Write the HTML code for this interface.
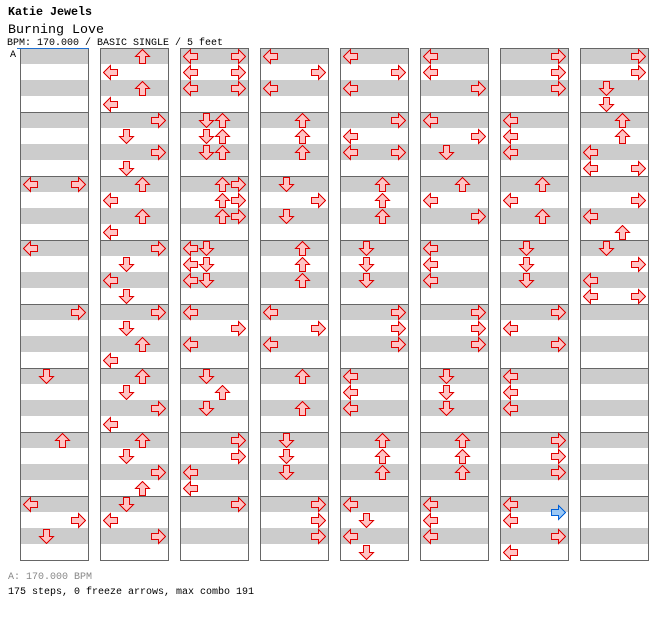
<!DOCTYPE html>
<html><head><meta charset="utf-8"><style>
html,body{margin:0;padding:0;background:#fff;}
svg{display:block;}
</style></head><body>
<svg xmlns="http://www.w3.org/2000/svg" xmlns:xlink="http://www.w3.org/1999/xlink" width="672" height="620" viewBox="0 0 672 620">
<defs>
<g id="col">
<rect x="0" y="48" width="69" height="16" fill="#cccccc"/>
<rect x="0" y="80" width="69" height="16" fill="#cccccc"/>
<rect x="0" y="112" width="69" height="16" fill="#cccccc"/>
<rect x="0" y="144" width="69" height="16" fill="#cccccc"/>
<rect x="0" y="176" width="69" height="16" fill="#cccccc"/>
<rect x="0" y="208" width="69" height="16" fill="#cccccc"/>
<rect x="0" y="240" width="69" height="16" fill="#cccccc"/>
<rect x="0" y="272" width="69" height="16" fill="#cccccc"/>
<rect x="0" y="304" width="69" height="16" fill="#cccccc"/>
<rect x="0" y="336" width="69" height="16" fill="#cccccc"/>
<rect x="0" y="368" width="69" height="16" fill="#cccccc"/>
<rect x="0" y="400" width="69" height="16" fill="#cccccc"/>
<rect x="0" y="432" width="69" height="16" fill="#cccccc"/>
<rect x="0" y="464" width="69" height="16" fill="#cccccc"/>
<rect x="0" y="496" width="69" height="16" fill="#cccccc"/>
<rect x="0" y="528" width="69" height="16" fill="#cccccc"/>
<path d="M0.5 48V561M68.5 48V561M0 48.5h69M0 112.5h69M0 176.5h69M0 240.5h69M0 304.5h69M0 368.5h69M0 432.5h69M0 496.5h69M0 560.5h69" stroke="#666666" stroke-width="1" fill="none"/>
</g>
<polygon id="R" points="0.5,4.5 7.5,4.5 7.5,0.5 14.5,7.5 7.5,14.5 7.5,10.5 0.5,10.5" fill="#ffc4c4" stroke="#e00000" stroke-width="1" shape-rendering="crispEdges"/>
<polygon id="L" points="14.5,4.5 7.5,4.5 7.5,0.5 0.5,7.5 7.5,14.5 7.5,10.5 14.5,10.5" fill="#ffc4c4" stroke="#e00000" stroke-width="1" shape-rendering="crispEdges"/>
<polygon id="U" points="4.5,14.5 4.5,7.5 0.5,7.5 7.5,0.5 14.5,7.5 10.5,7.5 10.5,14.5" fill="#ffc4c4" stroke="#e00000" stroke-width="1" shape-rendering="crispEdges"/>
<polygon id="D" points="4.5,0.5 4.5,7.5 0.5,7.5 7.5,14.5 14.5,7.5 10.5,7.5 10.5,0.5" fill="#ffc4c4" stroke="#e00000" stroke-width="1" shape-rendering="crispEdges"/>
<polygon id="RB" points="0.5,4.5 7.5,4.5 7.5,0.5 14.5,7.5 7.5,14.5 7.5,10.5 0.5,10.5" fill="#9cc8f4" stroke="#0060d8" stroke-width="1" shape-rendering="crispEdges"/>
</defs>

<g font-family="'Liberation Mono', 'DejaVu Sans Mono', monospace" fill="#000">
<text x="8" y="15" font-size="12" font-weight="bold" textLength="84" lengthAdjust="spacingAndGlyphs">Katie Jewels</text>
<text x="8" y="33" font-size="13" textLength="96" lengthAdjust="spacingAndGlyphs">Burning Love</text>
<text x="7" y="45" font-size="10" textLength="216" lengthAdjust="spacingAndGlyphs">BPM: 170.000 / BASIC SINGLE / 5 feet</text>
<text x="10" y="57" font-size="10">A</text>
<text x="8" y="579" font-size="10" fill="#888888" textLength="84" lengthAdjust="spacingAndGlyphs">A: 170.000 BPM</text>
<text x="8" y="594" font-size="10" textLength="246" lengthAdjust="spacingAndGlyphs">175 steps, 0 freeze arrows, max combo 191</text>
</g>

<use xlink:href="#col" href="#col" x="20" y="0"/>
<use xlink:href="#col" href="#col" x="100" y="0"/>
<use xlink:href="#col" href="#col" x="180" y="0"/>
<use xlink:href="#col" href="#col" x="260" y="0"/>
<use xlink:href="#col" href="#col" x="340" y="0"/>
<use xlink:href="#col" href="#col" x="420" y="0"/>
<use xlink:href="#col" href="#col" x="500" y="0"/>
<use xlink:href="#col" href="#col" x="580" y="0"/>

<line x1="17" y1="48.5" x2="89" y2="48.5" stroke="#1f6fd0" stroke-width="1"/>

<!-- Col 0 -->
<use href="#L" x="23" y="177"/><use href="#R" x="71" y="177"/>
<use href="#L" x="23" y="241"/>
<use href="#R" x="71" y="305"/>
<use href="#D" x="39" y="369"/>
<use href="#U" x="55" y="433"/>
<use href="#L" x="23" y="497"/><use href="#R" x="71" y="513"/><use href="#D" x="39" y="529"/>

<!-- Col 1 -->
<use href="#U" x="135" y="49"/><use href="#L" x="103" y="65"/><use href="#U" x="135" y="81"/><use href="#L" x="103" y="97"/>
<use href="#R" x="151" y="113"/><use href="#D" x="119" y="129"/><use href="#R" x="151" y="145"/><use href="#D" x="119" y="161"/>
<use href="#U" x="135" y="177"/><use href="#L" x="103" y="193"/><use href="#U" x="135" y="209"/><use href="#L" x="103" y="225"/>
<use href="#R" x="151" y="241"/><use href="#D" x="119" y="257"/><use href="#L" x="103" y="273"/><use href="#D" x="119" y="289"/>
<use href="#R" x="151" y="305"/><use href="#D" x="119" y="321"/><use href="#U" x="135" y="337"/><use href="#L" x="103" y="353"/>
<use href="#U" x="135" y="369"/><use href="#D" x="119" y="385"/><use href="#R" x="151" y="401"/><use href="#L" x="103" y="417"/>
<use href="#U" x="135" y="433"/><use href="#D" x="119" y="449"/><use href="#R" x="151" y="465"/><use href="#U" x="135" y="481"/>
<use href="#D" x="119" y="497"/><use href="#L" x="103" y="513"/><use href="#R" x="151" y="529"/>

<!-- Col 2 -->
<use href="#L" x="183" y="49"/><use href="#R" x="231" y="49"/><use href="#L" x="183" y="65"/><use href="#R" x="231" y="65"/><use href="#L" x="183" y="81"/><use href="#R" x="231" y="81"/>
<use href="#D" x="199" y="113"/><use href="#U" x="215" y="113"/><use href="#D" x="199" y="129"/><use href="#U" x="215" y="129"/><use href="#D" x="199" y="145"/><use href="#U" x="215" y="145"/>
<use href="#U" x="215" y="177"/><use href="#R" x="231" y="177"/><use href="#U" x="215" y="193"/><use href="#R" x="231" y="193"/><use href="#U" x="215" y="209"/><use href="#R" x="231" y="209"/>
<use href="#L" x="183" y="241"/><use href="#D" x="199" y="241"/><use href="#L" x="183" y="257"/><use href="#D" x="199" y="257"/><use href="#L" x="183" y="273"/><use href="#D" x="199" y="273"/>
<use href="#L" x="183" y="305"/><use href="#R" x="231" y="321"/><use href="#L" x="183" y="337"/>
<use href="#D" x="199" y="369"/><use href="#U" x="215" y="385"/><use href="#D" x="199" y="401"/>
<use href="#R" x="231" y="433"/><use href="#R" x="231" y="449"/><use href="#L" x="183" y="465"/><use href="#L" x="183" y="481"/>
<use href="#R" x="231" y="497"/>

<!-- Col 3 -->
<use href="#L" x="263" y="49"/><use href="#R" x="311" y="65"/><use href="#L" x="263" y="81"/>
<use href="#U" x="295" y="113"/><use href="#U" x="295" y="129"/><use href="#U" x="295" y="145"/>
<use href="#D" x="279" y="177"/><use href="#R" x="311" y="193"/><use href="#D" x="279" y="209"/>
<use href="#U" x="295" y="241"/><use href="#U" x="295" y="257"/><use href="#U" x="295" y="273"/>
<use href="#L" x="263" y="305"/><use href="#R" x="311" y="321"/><use href="#L" x="263" y="337"/>
<use href="#U" x="295" y="369"/><use href="#U" x="295" y="401"/>
<use href="#D" x="279" y="433"/><use href="#D" x="279" y="449"/><use href="#D" x="279" y="465"/>
<use href="#R" x="311" y="497"/><use href="#R" x="311" y="513"/><use href="#R" x="311" y="529"/>

<!-- Col 4 -->
<use href="#L" x="343" y="49"/><use href="#R" x="391" y="65"/><use href="#L" x="343" y="81"/>
<use href="#R" x="391" y="113"/><use href="#L" x="343" y="129"/><use href="#L" x="343" y="145"/><use href="#R" x="391" y="145"/>
<use href="#U" x="375" y="177"/><use href="#U" x="375" y="193"/><use href="#U" x="375" y="209"/>
<use href="#D" x="359" y="241"/><use href="#D" x="359" y="257"/><use href="#D" x="359" y="273"/>
<use href="#R" x="391" y="305"/><use href="#R" x="391" y="321"/><use href="#R" x="391" y="337"/>
<use href="#L" x="343" y="369"/><use href="#L" x="343" y="385"/><use href="#L" x="343" y="401"/>
<use href="#U" x="375" y="433"/><use href="#U" x="375" y="449"/><use href="#U" x="375" y="465"/>
<use href="#L" x="343" y="497"/><use href="#D" x="359" y="513"/><use href="#L" x="343" y="529"/><use href="#D" x="359" y="545"/>

<!-- Col 5 -->
<use href="#L" x="423" y="49"/><use href="#L" x="423" y="65"/><use href="#R" x="471" y="81"/>
<use href="#L" x="423" y="113"/><use href="#R" x="471" y="129"/><use href="#D" x="439" y="145"/>
<use href="#U" x="455" y="177"/><use href="#L" x="423" y="193"/><use href="#R" x="471" y="209"/>
<use href="#L" x="423" y="241"/><use href="#L" x="423" y="257"/><use href="#L" x="423" y="273"/>
<use href="#R" x="471" y="305"/><use href="#R" x="471" y="321"/><use href="#R" x="471" y="337"/>
<use href="#D" x="439" y="369"/><use href="#D" x="439" y="385"/><use href="#D" x="439" y="401"/>
<use href="#U" x="455" y="433"/><use href="#U" x="455" y="449"/><use href="#U" x="455" y="465"/>
<use href="#L" x="423" y="497"/><use href="#L" x="423" y="513"/><use href="#L" x="423" y="529"/>

<!-- Col 6 -->
<use href="#R" x="551" y="49"/><use href="#R" x="551" y="65"/><use href="#R" x="551" y="81"/>
<use href="#L" x="503" y="113"/><use href="#L" x="503" y="129"/><use href="#L" x="503" y="145"/>
<use href="#U" x="535" y="177"/><use href="#L" x="503" y="193"/><use href="#U" x="535" y="209"/>
<use href="#D" x="519" y="241"/><use href="#D" x="519" y="257"/><use href="#D" x="519" y="273"/>
<use href="#R" x="551" y="305"/><use href="#L" x="503" y="321"/><use href="#R" x="551" y="337"/>
<use href="#L" x="503" y="369"/><use href="#L" x="503" y="385"/><use href="#L" x="503" y="401"/>
<use href="#R" x="551" y="433"/><use href="#R" x="551" y="449"/><use href="#R" x="551" y="465"/>
<use href="#L" x="503" y="497"/><use href="#RB" x="551" y="505"/><use href="#L" x="503" y="513"/><use href="#R" x="551" y="529"/><use href="#L" x="503" y="545"/>

<!-- Col 7 -->
<use href="#R" x="631" y="49"/><use href="#R" x="631" y="65"/><use href="#D" x="599" y="81"/><use href="#D" x="599" y="97"/>
<use href="#U" x="615" y="113"/><use href="#U" x="615" y="129"/><use href="#L" x="583" y="145"/><use href="#L" x="583" y="161"/><use href="#R" x="631" y="161"/>
<use href="#R" x="631" y="193"/><use href="#L" x="583" y="209"/><use href="#U" x="615" y="225"/>
<use href="#D" x="599" y="241"/><use href="#R" x="631" y="257"/><use href="#L" x="583" y="273"/><use href="#L" x="583" y="289"/><use href="#R" x="631" y="289"/>
</svg>
</body></html>
